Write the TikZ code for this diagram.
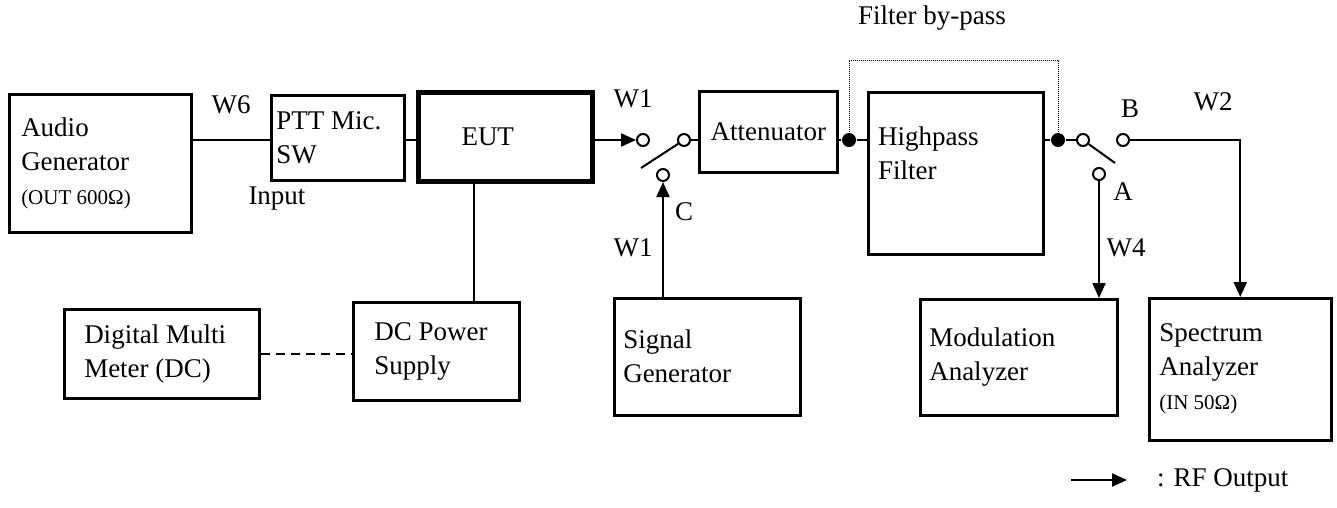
\documentclass[tikz,border=0pt]{standalone}
\usepackage{fontspec}
\setmainfont{Liberation Serif}
\usetikzlibrary{arrows.meta}

\newcommand\smalltxt{\fontsize{21}{33}\selectfont}

\begin{document}
\begin{tikzpicture}[x=1pt, y=-1pt, line width=2pt,
  box/.style     = { draw, line width=2.5pt, anchor=north west, align=flush left,
                     inner ysep=0pt, font=\fontsize{27}{34}\selectfont },
  tag/.style     = { font=\fontsize{27}{34}\selectfont, inner sep=0pt },
  contact/.style = { circle, draw, fill=white, minimum size=12pt, inner sep=0pt },
  dot/.style     = { circle, fill, minimum size=14pt, inner sep=0pt },
  rf/.style      = { -{Triangle[length=15pt, width=13pt]} },
  bypass/.style  = { densely dotted, line width=1pt }]
  \useasboundingbox (0,0) rectangle (1337,507);

  % top row
  \node[box, text width=158pt, inner xsep=12pt, minimum height=138] (aud) at (8,93)
    {Audio\\Generator\\{\smalltxt (OUT 600Ω)}};
  \node[box, text width=123pt, inner xsep=5pt, minimum height=85] (ptt) at (270,94)
    {PTT Mic.\\SW};
  \node[box, line width=5pt, text width=88pt, inner xsep=43pt, minimum height=89] (eut) at (416,90)
    {EUT};
  \node[box, align=center, text width=118pt, inner xsep=10pt, minimum height=81] (att) at (698,90)
    {Attenuator};
  \node[box, text width=175pt, inner xsep=0pt, minimum height=162] (hpf) at (867,91) {};
  \node[tag, anchor=west, align=flush left] (hpf-t) at (877,153) {Highpass\\Filter};

  % bottom row
  \node[box, text width=155pt, inner xsep=20pt, minimum height=89] (dmm) at (63,308)
    {Digital Multi\\Meter (DC)};
  \node[box, text width=124pt, inner xsep=21pt, minimum height=98] (dcps) at (352,301)
    {DC Power\\Supply};
  \node[box, text width=168pt, inner xsep=9pt, minimum height=117] (sig) at (613,297)
    {Signal\\Generator};
  \node[box, text width=179pt, inner xsep=9pt, minimum height=116] (mod) at (919,298)
    {Modulation\\Analyzer};
  \node[box, text width=162pt, inner xsep=10pt, minimum height=142] (spa) at (1148,297)
    {Spectrum\\Analyzer\\{\smalltxt (IN 50Ω)}};

  % switch contacts
  \node[contact] (s1in)  at (643,140) {};
  \node[contact] (s1out) at (684,140) {};
  \node[contact] (s1c)   at (663,175) {};
  \node[contact] (s2com) at (1083,140) {};
  \node[contact] (s2b)   at (1123,140) {};
  \node[contact] (s2a)   at (1099,174) {};
  \coordinate (s1tip) at (641,168);
  \coordinate (s2tip) at (1115,163);
  \coordinate (bp) at (950,60);

  % filter by-pass
  \node[dot] (d1) at (849,140) {};
  \node[dot] (d2) at (1058,140) {};
  \draw[bypass] (d1.center) -- (d1.center |- bp) -| (d2.center);

  % wiring
  \draw (aud.east |- s1in) -- (ptt.west |- s1in);
  \draw (ptt.east |- s1in) -- (eut.west |- s1in);
  \draw[rf] (eut.east |- s1in) -- (s1in);
  \draw (s1out) -- (s1tip);
  \draw (s1out) -- (att.west |- s1out);
  \draw[rf] (sig.north -| s1c) -- (s1c);
  \draw (att.east |- d1) -- (d1) -- (hpf.west |- d1);
  \draw (hpf.east |- d2) -- (d2) -- (s2com);
  \draw (s2com) -- (s2tip);
  \draw[rf] (s2a) -- (s2a |- mod.north);
  \draw[rf] (s2b) -| (spa.north);
  \draw (eut.south -| 474,0) -- (dcps.north -| 474,0);
  \draw[dash pattern=on 9pt off 6pt] (dmm.east) -- (dmm.east -| dcps.west);

  % labels
  \node[tag] (w6)    at (231,105) {W6};
  \node[tag] (input) at (277,199) {Input};
  \node[tag] (w1a)   at (633,99)  {W1};
  \node[tag] (lc)    at (684,212) {C};
  \node[tag] (w1b)   at (633,248) {W1};
  \node[tag] (lb)    at (1130,109) {B};
  \node[tag] (w2)    at (1213,102) {W2};
  \node[tag] (la)    at (1123,192) {A};
  \node[tag] (w4)    at (1126,248) {W4};
  \node[tag, anchor=west] (byp) at (857,18) {Filter by-pass};

  % legend
  \coordinate (rf0) at (1071,480);
  \coordinate (rf1) at (1127,480);
  \draw[rf] (rf0) -- (rf1);
  \node[tag, anchor=west] (rflab) at (1156,480) {: RF Output};
\end{tikzpicture}
\end{document}
